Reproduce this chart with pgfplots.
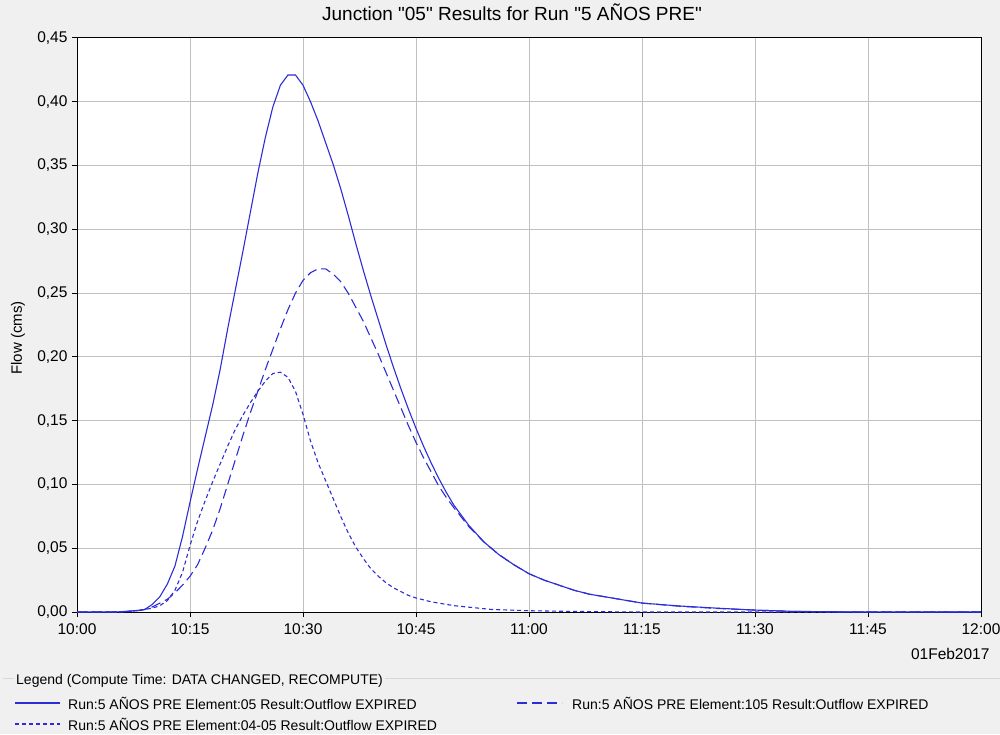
\documentclass[border=0pt]{standalone}
\usepackage{fontspec}
\setmainfont{Liberation Sans}[Ligatures=TeXOff]
\usepackage{pgfplots}
\pgfplotsset{compat=1.18}
\usepackage{pgfplotstable}
\definecolor{bgGray}{RGB}{240,240,240}
\definecolor{gridGray}{RGB}{192,192,192}
\definecolor{lineBlue}{RGB}{45,45,215}
\definecolor{sepGray}{RGB}{215,215,215}

\pgfplotstableread{
t v
0 0
5 0
6 0.0003
7 0.0008
8 0.0012
9 0.002
10 0.006
11 0.012
12 0.022
13 0.036
14 0.059
15 0.086
16 0.112
17 0.137
18 0.162
19 0.190
20 0.222
21 0.252
22 0.282
23 0.313
24 0.344
25 0.372
26 0.396
27 0.413
28 0.421
29 0.421
30 0.413
31 0.400
32 0.385
33 0.368
34 0.351
35 0.332
36 0.311
37 0.289
38 0.268
39 0.248
40 0.229
41 0.210
42 0.192
43 0.175
44 0.159
45 0.144
46 0.130
47 0.117
48 0.105
49 0.094
50 0.084
52 0.068
54 0.055
56 0.045
58 0.037
60 0.030
62 0.025
64 0.021
66 0.017
68 0.014
70 0.012
72 0.010
75 0.007
80 0.0047
85 0.003
90 0.0015
95 0.0005
100 0.0002
105 0
120 0
}\solid

\pgfplotstableread{
t v
0 0
6 0
7 0.0005
8 0.001
9 0.002
10 0.004
11 0.007
12 0.010
13 0.015
14 0.021
15 0.028
16 0.037
17 0.050
18 0.064
19 0.081
20 0.100
21 0.119
22 0.138
23 0.156
24 0.173
25 0.190
26 0.206
27 0.222
28 0.237
29 0.250
30 0.260
31 0.266
32 0.269
33 0.269
34 0.265
35 0.259
36 0.250
37 0.239
38 0.228
39 0.215
40 0.202
41 0.188
42 0.174
43 0.160
44 0.146
45 0.133
46 0.121
47 0.110
48 0.099
49 0.090
50 0.082
52 0.067
54 0.055
56 0.045
58 0.037
60 0.030
62 0.025
64 0.021
66 0.017
68 0.014
70 0.012
72 0.010
75 0.007
80 0.0045
85 0.0028
90 0.0015
95 0.0005
100 0
120 0
}\dashedT

\pgfplotstableread{
t v
0 0
6 0
7 0.0005
8 0.001
9 0.002
10 0.003
11 0.005
12 0.009
13 0.017
14 0.031
15 0.052
16 0.071
17 0.087
18 0.102
19 0.116
20 0.130
21 0.143
22 0.154
23 0.164
24 0.173
25 0.181
26 0.187
27 0.188
28 0.184
29 0.173
30 0.155
31 0.134
32 0.117
33 0.103
34 0.089
35 0.075
36 0.062
37 0.051
38 0.042
39 0.034
40 0.028
41 0.023
42 0.019
43 0.016
44 0.013
45 0.011
47 0.008
50 0.005
55 0.002
60 0.001
65 0.0005
70 0.0002
75 0
120 0
}\dottedT

\begin{document}
\begin{tikzpicture}[x=1pt,y=1pt]
\useasboundingbox (0,0) rectangle (1000,734);
\fill[bgGray] (0,0) rectangle (1000,734);
\begin{axis}[
  at={(77pt,122pt)}, anchor=south west,
  scale only axis, width=904pt, height=574pt,
  xmin=0, xmax=120, ymin=0, ymax=0.45,
  axis background/.style={fill=white},
  xtick={0,15,...,120},
  xticklabels={10:00,10:15,10:30,10:45,11:00,11:15,11:30,11:45,12:00},
  ytick={0,0.05,...,0.451},
  /pgf/number format/.cd, fixed, fixed zerofill, precision=2, use comma, assume math mode=true,
  /pgfplots/.cd,
  grid=major,
  major grid style={gridGray, line width=1pt},
  axis line style={black, line width=1pt},
  tick align=outside,
  xtick pos=bottom, ytick pos=left,
  major tick length=5pt,
  tick style={black, line width=1pt},
  tick label style={font=\fontsize{15.5}{18}\selectfont},
  xticklabel style={yshift=-3pt},
  yticklabel style={xshift=-1pt},
  clip=true,
]
\addplot[lineBlue, line width=1.1pt] table[x=t,y=v]{\solid};
\addplot[lineBlue, line width=1.1pt, dash pattern=on 10pt off 5pt] table[x=t,y=v]{\dashedT};
\addplot[lineBlue, line width=1.1pt, dash pattern=on 4pt off 3pt] table[x=t,y=v]{\dottedT};
\end{axis}
% title
\node[font=\fontsize{19}{22}\selectfont] at (512,722) {Junction "05" Results for Run "5 AÑOS PRE"};
% y label
\node[rotate=90, font=\fontsize{15}{18}\selectfont] at (18,396) {Flow (cms)};
% date
\node[anchor=east, font=\fontsize{15.5}{18}\selectfont] at (993,80) {01Feb2017};
% legend
\draw[sepGray, line width=1pt] (3,56) -- (1000,56);
\node[anchor=west, fill=bgGray, inner sep=2pt, font=\fontsize{14}{16}\selectfont] at (14,53) {Legend (Compute Time: DATA CHANGED, RECOMPUTE)};
\draw[lineBlue, line width=1.1pt] (15,31) -- (60,31);
\node[anchor=west, inner sep=0pt, font=\fontsize{14}{16}\selectfont] at (68,31) {Run:5 AÑOS PRE Element:05 Result:Outflow EXPIRED};
\draw[lineBlue, line width=1.1pt, dash pattern=on 10pt off 5pt] (517,31) -- (562,31);
\node[anchor=west, inner sep=0pt, font=\fontsize{14}{16}\selectfont] at (572,31) {Run:5 AÑOS PRE Element:105 Result:Outflow EXPIRED};
\draw[lineBlue, line width=1.1pt, dash pattern=on 4pt off 3pt] (15,10) -- (60,10);
\node[anchor=west, inner sep=0pt, font=\fontsize{14}{16}\selectfont] at (68,10) {Run:5 AÑOS PRE Element:04-05 Result:Outflow EXPIRED};
\end{tikzpicture}
\end{document}
